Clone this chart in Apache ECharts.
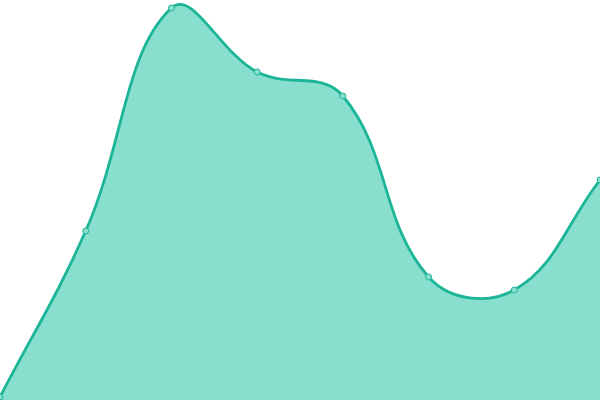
<!DOCTYPE html>
<html>
<head>
<meta charset="utf-8">
<script src="https://cdn.jsdelivr.net/npm/echarts@6/dist/echarts.min.js"></script>
<style>
  html, body { margin: 0; padding: 0; background: #fff; }
  #chart { width: 600px; height: 400px; }
</style>
</head>
<body>
<div id="chart"></div>
<script>
const categories = ['1', '2', '3', '4', '5', '6', '7', '8'];
const values = [3, 169, 392, 328, 304, 123, 110, 220];

const LINE = '#1db597';
const FILL = '#88dfce';
const TENSION = 0.4;

// spline through the points, tangents weighted by neighbour distance
function smoothPath(pts) {
  const cps = [];
  for (let i = 0; i < pts.length; i++) {
    const p = pts[i];
    const prev = pts[i - 1] || p;
    const next = pts[i + 1] || p;
    const d01 = Math.hypot(p[0] - prev[0], p[1] - prev[1]);
    const d12 = Math.hypot(next[0] - p[0], next[1] - p[1]);
    let s01 = d01 / (d01 + d12), s12 = d12 / (d01 + d12);
    if (isNaN(s01)) s01 = 0;
    if (isNaN(s12)) s12 = 0;
    const fa = TENSION * s01, fb = TENSION * s12;
    cps.push([p[0] - fa * (next[0] - prev[0]), p[1] - fa * (next[1] - prev[1])]);
    cps.push([p[0] + fb * (next[0] - prev[0]), p[1] + fb * (next[1] - prev[1])]);
  }
  let d = 'M' + pts[0][0] + ' ' + pts[0][1];
  for (let i = 0; i < pts.length - 1; i++) {
    const c1 = cps[2 * i + 1], c2 = cps[2 * i + 2], p = pts[i + 1];
    d += ' C' + c1[0] + ' ' + c1[1] + ' ' + c2[0] + ' ' + c2[1] + ' ' + p[0] + ' ' + p[1];
  }
  return d;
}

function renderCurve(params, api) {
  if (params.dataIndex !== 0) return null;
  const pts = values.map((v, i) => api.coord([i, v]));
  const line = smoothPath(pts);
  const b0 = api.coord([0, 0]);
  const b1 = api.coord([values.length - 1, 0]);
  const area = line + ' L' + b1[0] + ' ' + b1[1] + ' L' + b0[0] + ' ' + b0[1] + ' Z';
  return {
    type: 'group',
    children: [
      { type: 'path', shape: { pathData: area }, style: { fill: FILL, stroke: null } },
      { type: 'path', shape: { pathData: line }, style: { fill: null, stroke: LINE, lineWidth: 2.8 } }
    ]
  };
}

const chart = echarts.init(document.getElementById('chart'), null, { renderer: 'canvas' });
chart.setOption({
  animation: false,
  grid: { left: 0, right: 0, top: 0, bottom: 0 },
  xAxis: { type: 'category', data: categories, boundaryGap: false, show: false },
  yAxis: { type: 'value', min: 0, max: 400, show: false },
  series: [
    {
      type: 'custom',
      data: values.map((v, i) => [i, v]),
      renderItem: renderCurve,
      clip: false,
      z: 1
    },
    {
      type: 'line',
      data: values,
      symbol: 'circle',
      symbolSize: 6,
      lineStyle: { opacity: 0 },
      itemStyle: { color: FILL, borderColor: LINE, borderWidth: 1 },
      z: 3
    }
  ]
});
</script>
</body>
</html>
